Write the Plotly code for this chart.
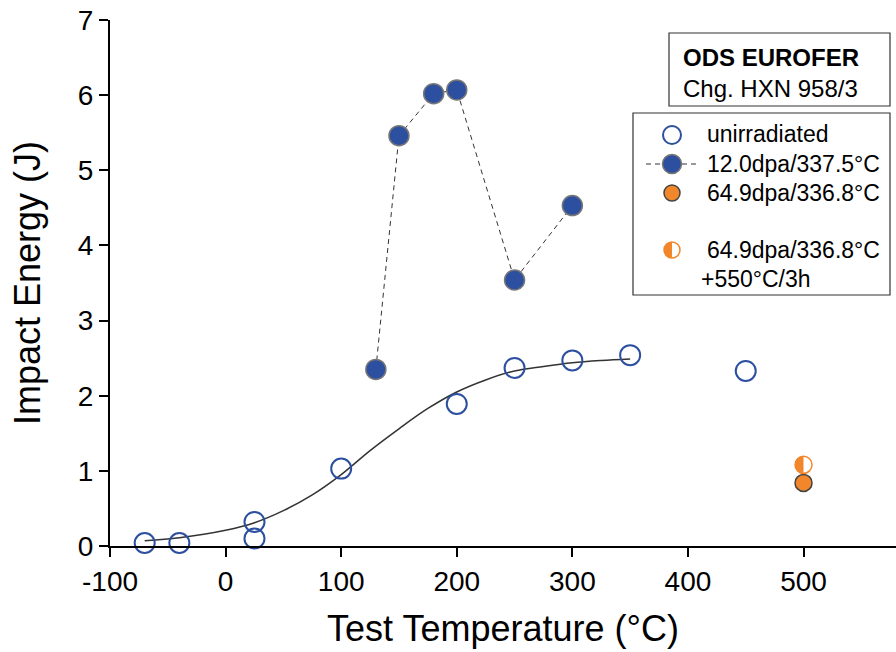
import plotly.graph_objects as go

# ---- data -------------------------------------------------------------
unirr_T = [-70, -40, 25, 25, 100, 200, 250, 300, 350, 450]
unirr_E = [0.04, 0.04, 0.10, 0.32, 1.03, 1.89, 2.37, 2.47, 2.54, 2.33]

irr12_T = [130, 150, 180, 200, 250, 300]
irr12_E = [2.35, 5.46, 6.02, 6.07, 3.54, 4.53]

irr65_T = [500]
irr65_E = [0.84]

irr65_ann_T = [500]
irr65_ann_E = [1.08]

# tanh transition fit of the unirradiated data
fit_T = [-70, -40, 0, 25, 50, 75, 100, 125, 150, 175, 200, 225, 250, 275, 300, 325, 350]
fit_E = [0.07, 0.11, 0.21, 0.31, 0.47, 0.68, 0.95, 1.27, 1.56, 1.83, 2.05, 2.21, 2.33, 2.39, 2.44, 2.47, 2.49]

x_ticks = [-100, 0, 100, 200, 300, 400, 500]
x_tick_text = ["-100", "0", "100", "200", "300", "400", "500"]
y_ticks = [0, 1, 2, 3, 4, 5, 6, 7]

legend_labels = ["unirradiated", "12.0dpa/337.5°C", "64.9dpa/336.8°C",
                 "64.9dpa/336.8°C", "+550°C/3h"]
title_lines = ["<b>ODS EUROFER</b>", "Chg. HXN 958/3"]

# ---- styling ----------------------------------------------------------
BLUE = "#2d4f9f"
ORANGE = "#f2862a"
DARK = "#333333"
FONT = "Liberation Sans, Arial, sans-serif"

W, H = 896, 652
L, R, T, B = 110, 0, 20, 106
PW, PH = W - L - R, H - T - B


def px(x):
    return (x - L) / PW


def py(y):
    return (H - B - y) / PH


fig = go.Figure()

fig.add_trace(go.Scatter(x=fit_T, y=fit_E, mode="lines", line_shape="spline",
                         line=dict(color=DARK, width=1.5), showlegend=False,
                         hoverinfo="skip"))
fig.add_trace(go.Scatter(x=unirr_T, y=unirr_E, mode="markers", name=legend_labels[0],
                         marker=dict(symbol="circle-open", size=20, color=BLUE,
                                     line=dict(color=BLUE, width=2)),
                         cliponaxis=False, showlegend=False))
fig.add_trace(go.Scatter(x=irr12_T, y=irr12_E, mode="lines+markers", name=legend_labels[1],
                         line=dict(color=DARK, width=1, dash="5px,4px"),
                         marker=dict(symbol="circle", size=20, color=BLUE,
                                     line=dict(color="#777777", width=1.5)),
                         showlegend=False))
fig.add_trace(go.Scatter(x=irr65_T, y=irr65_E, mode="markers", name=legend_labels[2],
                         marker=dict(symbol="circle", size=17, color=ORANGE,
                                     line=dict(color="#444444", width=1.5)),
                         showlegend=False))
fig.add_trace(go.Scatter(x=irr65_ann_T, y=irr65_ann_E, mode="markers",
                         name=legend_labels[3] + " " + legend_labels[4],
                         marker=dict(symbol="circle", size=17, color="white",
                                     line=dict(color=ORANGE, width=1.5)),
                         showlegend=False))

shapes = []
annotations = []


def half_path(r):
    k = 0.5523 * r
    return (f"M 0,{r} C {-k},{r} {-r},{k} {-r},0 "
            f"C {-r},{-k} {-k},{-r} 0,{-r} Z")


# left-half fill of the annealed-condition markers
for tx, ey in zip(irr65_ann_T, irr65_ann_E):
    shapes.append(dict(type="path", xref="x", yref="y", xsizemode="pixel",
                       ysizemode="pixel", xanchor=tx, yanchor=ey,
                       path=half_path(8.5), fillcolor=ORANGE,
                       line=dict(width=0), layer="above"))

# title box
shapes.append(dict(type="rect", xref="paper", yref="paper",
                   x0=px(669), x1=px(890), y0=py(106), y1=py(33),
                   line=dict(color=DARK, width=1.2), fillcolor="white", layer="above"))
annotations.append(dict(xref="paper", yref="paper", x=px(681), y=py(58),
                        xanchor="left", yanchor="middle", showarrow=False,
                        text=title_lines[0], font=dict(size=24, color="black", family=FONT)))
annotations.append(dict(xref="paper", yref="paper", x=px(681), y=py(88),
                        xanchor="left", yanchor="middle", showarrow=False,
                        text=title_lines[1], font=dict(size=24, color="black", family=FONT)))

# legend box
shapes.append(dict(type="rect", xref="paper", yref="paper",
                   x0=px(633), x1=px(890), y0=py(295), y1=py(113),
                   line=dict(color=DARK, width=1.2), fillcolor="white", layer="above"))

mx = px(672)
rows = [py(135), py(164), py(193), py(250)]


def circle(xa, ya, r, fill, lc, lw):
    return dict(type="circle", xref="paper", yref="paper", xsizemode="pixel",
                ysizemode="pixel", xanchor=xa, yanchor=ya, x0=-r, x1=r, y0=-r, y1=r,
                fillcolor=fill, line=dict(color=lc, width=lw), layer="above")


shapes.append(circle(mx, rows[0], 9, "white", BLUE, 2))
shapes.append(dict(type="line", xref="paper", yref="paper", x0=px(646), x1=px(699),
                   y0=rows[1], y1=rows[1], line=dict(color=DARK, width=1, dash="5px,4px"),
                   layer="above"))
shapes.append(circle(mx, rows[1], 9.5, BLUE, "#777777", 1.5))
shapes.append(circle(mx, rows[2], 8, ORANGE, "#444444", 1.5))
shapes.append(circle(mx, rows[3], 8, "white", ORANGE, 1.5))
shapes.append(dict(type="path", xref="paper", yref="paper", xsizemode="pixel",
                   ysizemode="pixel", xanchor=mx, yanchor=rows[3],
                   path=half_path(8), fillcolor=ORANGE, line=dict(width=0), layer="above"))

text_y = [py(134), py(164), py(193), py(250), py(279)]
text_x = [px(705), px(705), px(705), px(705), px(699)]
for lbl, tx, ty in zip(legend_labels, text_x, text_y):
    annotations.append(dict(xref="paper", yref="paper", x=tx, y=ty, xanchor="left",
                            yanchor="middle", showarrow=False, text=lbl,
                            font=dict(size=23, color="black", family=FONT)))

fig.update_layout(
    width=W, height=H,
    margin=dict(l=L, r=R, t=T, b=B, autoexpand=False),
    paper_bgcolor="white", plot_bgcolor="white",
    font=dict(family=FONT, color="black"),
    shapes=shapes, annotations=annotations,
    showlegend=False,
    xaxis=dict(range=[-100, 580], tickvals=x_ticks, ticktext=x_tick_text,
               ticks="outside", ticklen=9,
               tickwidth=2, tickcolor="black", showline=True, linecolor="black",
               linewidth=2, showgrid=False, zeroline=False,
               tickfont=dict(size=28, family=FONT, color="black"),
               title=dict(text="Test Temperature (°C)", standoff=20,
                          font=dict(size=36, family=FONT, color="black"))),
    yaxis=dict(range=[0, 7], tickvals=y_ticks, ticks="outside", ticklen=9,
               tickwidth=2, tickcolor="black", showline=True, linecolor="black",
               linewidth=2, showgrid=False, zeroline=False,
               tickfont=dict(size=28, family=FONT, color="black"),
               title=dict(text="Impact Energy (J)", standoff=26,
                          font=dict(size=36, family=FONT, color="black"))),
)

fig.write_html("out.html")
